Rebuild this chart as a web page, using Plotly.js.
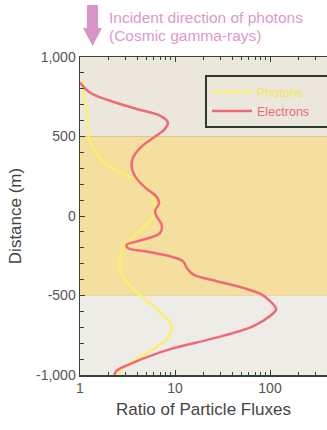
<!DOCTYPE html>
<html>
<head>
<meta charset="utf-8">
<script src="https://cdn.plot.ly/plotly-3.0.1.min.js"></script>
<style>html,body{margin:0;padding:0;background:#fff;}#chart{width:327px;height:430px;}</style>
</head>
<body>
<div id="chart"></div>
<script>
// Photons (yellow)
const photonDist = [850, 787, 662, 537, 475, 392, 308, 246, 183, 121, 58, -14, -56, -108, -171, -254, -358, -462, -567, -671, -712, -775, -837, -900, -973, -1000];
const photonRatio = [1.08, 1.08, 1.18, 1.22, 1.27, 1.5, 2.07, 3.36, 5.0, 5.9, 6.2, 5.7, 5.0, 3.95, 3.1, 2.64, 2.74, 3.64, 5.9, 8.9, 9.2, 8.2, 5.9, 3.95, 2.64, 2.5];
// Electrons (red)
const electronDist = [840, 777, 725, 673, 631, 589, 548, 506, 444, 371, 308, 235, 173, 121, 79, 37, 6, -56, -108, -160, -181, -202, -223, -254, -285, -327, -369, -410, -452, -494, -535, -587, -629, -692, -754, -796, -837, -889, -931, -973, -1000];
const electronRatio = [1.0, 1.27, 2.07, 3.95, 6.95, 8.4, 7.85, 6.4, 4.6, 3.64, 3.5, 3.95, 5.0, 6.4, 6.8, 6.2, 6.3, 7.24, 6.95, 3.95, 3.1, 3.2, 5.0, 8.9, 12.2, 13.3, 15.6, 27.5, 52, 82, 100, 116, 100, 67, 32, 16.9, 8.9, 5.0, 3.36, 2.43, 2.3];
const seriesNames = ["Photons", "Electrons"];
const yTickVals = [1000, 500, 0, -500, -1000];
const yTickText = ["1,000", "500", "0", "-500", "-1,000"];
const xTickVals = [1, 10, 100];
const xTickText = ["1", "10", "100"];
const xMinorVals = [2, 3, 4, 5, 6, 7, 8, 9, 20, 30, 40, 50, 60, 70, 80, 90, 200, 300];
const bandEdges = [1000, 500, -500, -1000];
const bandColors = ["#ebe7dc", "#f5df9e", "#eeece6"];

const pad = '&nbsp;'.repeat(6);
const traces = [
  {x: photonRatio, y: photonDist, mode: 'lines', name: '<span style="color:#f2e84e">' + seriesNames[0] + '</span>' + pad,
   line: {color: '#fbf16c', width: 2.5, shape: 'spline', smoothing: 1}},
  {x: electronRatio, y: electronDist, mode: 'lines', name: '<span style="color:#ea6a78">' + seriesNames[1] + '</span>' + pad,
   line: {color: '#ee6a78', width: 2.5, shape: 'spline', smoothing: 1}}
];

function px(p){return (p-80)/247;}
function py(q){return 1-(q-57)/318;}

const shapes = [];
for (let i = 0; i < bandColors.length; i++) {
  shapes.push({type: 'rect', xref: 'paper', yref: 'y', x0: 0, x1: 1, y0: bandEdges[i + 1], y1: bandEdges[i],
    fillcolor: bandColors[i], line: {width: 0}, layer: 'below'});
}
shapes.push({type: 'line', xref: 'paper', yref: 'y', x0: 0, x1: 1, y0: 500, y1: 500, line: {color: '#d8c898', width: 1}, layer: 'below'});
shapes.push({type: 'line', xref: 'paper', yref: 'y', x0: 0, x1: 1, y0: -500, y1: -500, line: {color: '#e6d8a8', width: 1}, layer: 'below'});
// legend shadow
shapes.push({type: 'rect', xref: 'paper', yref: 'paper', x0: px(208), x1: px(329), y0: py(126), y1: py(78),
  fillcolor: '#d6d3c8', line: {width: 0}, layer: 'below'});
// arrow
shapes.push({type: 'path', xref: 'paper', yref: 'paper',
  path: `M ${px(87)} ${py(5)} L ${px(98)} ${py(5)} L ${px(98)} ${py(28)} L ${px(102)} ${py(28)} L ${px(92.5)} ${py(46)} L ${px(83)} ${py(28)} L ${px(87)} ${py(28)} Z`,
  fillcolor: '#d894c6', line: {width: 0}});

const layout = {
  width: 327, height: 430,
  margin: {l: 80, r: 0, t: 57, b: 55, autoexpand: false},
  paper_bgcolor: '#ffffff', plot_bgcolor: '#ebe7dc',
  font: {family: 'Liberation Sans, Arial, sans-serif', color: '#555555', size: 12},
  showlegend: true,
  legend: {x: px(205), y: py(75), xanchor: 'left', yanchor: 'top', bgcolor: '#ebe7dc',
    bordercolor: '#2f3a30', borderwidth: 2, font: {size: 12.5}, itemwidth: 40, tracegroupgap: 6},
  xaxis: {type: 'log', range: [0, 2.6], tickvals: xTickVals, ticktext: xTickText,
    ticks: 'inside', ticklen: 5, tickcolor: '#334433', showline: true, linecolor: '#334433', linewidth: 1.5,
    mirror: 'ticks', showgrid: false, zeroline: false, automargin: false,
    minor: {tickmode: 'array', tickvals: xMinorVals, ticks: 'inside', ticklen: 3, tickcolor: '#334433', showgrid: false},
    tickfont: {size: 14, color: '#555'},
    title: {text: 'Ratio of Particle Fluxes', font: {size: 17, color: '#444'}, standoff: 8}},
  yaxis: {range: [-1000, 1000], tickvals: yTickVals, ticktext: yTickText,
    ticks: 'inside', ticklen: 5, tickcolor: '#334433', showline: true, linecolor: '#334433', linewidth: 1.5,
    showgrid: false, zeroline: false, automargin: false,
    minor: {ticks: 'inside', ticklen: 4, dtick: 100, tickcolor: '#334433', showgrid: false},
    tickfont: {size: 14, color: '#555'},
    title: {text: 'Distance (m)', font: {size: 17, color: '#444'}, standoff: 10}},
  shapes: shapes,
  annotations: [
    {xref: 'paper', yref: 'paper', x: px(107), y: py(18), xanchor: 'left', yanchor: 'middle', showarrow: false,
     text: 'Incident direction of photons', font: {size: 15.5, color: '#dc9ac8'}},
    {xref: 'paper', yref: 'paper', x: px(107), y: py(36), xanchor: 'left', yanchor: 'middle', showarrow: false,
     text: '(Cosmic gamma-rays)', font: {size: 15.5, color: '#dc9ac8'}}
  ]
};

Plotly.newPlot('chart', traces, layout, {displayModeBar: false, staticPlot: true});
</script>
</body>
</html>
